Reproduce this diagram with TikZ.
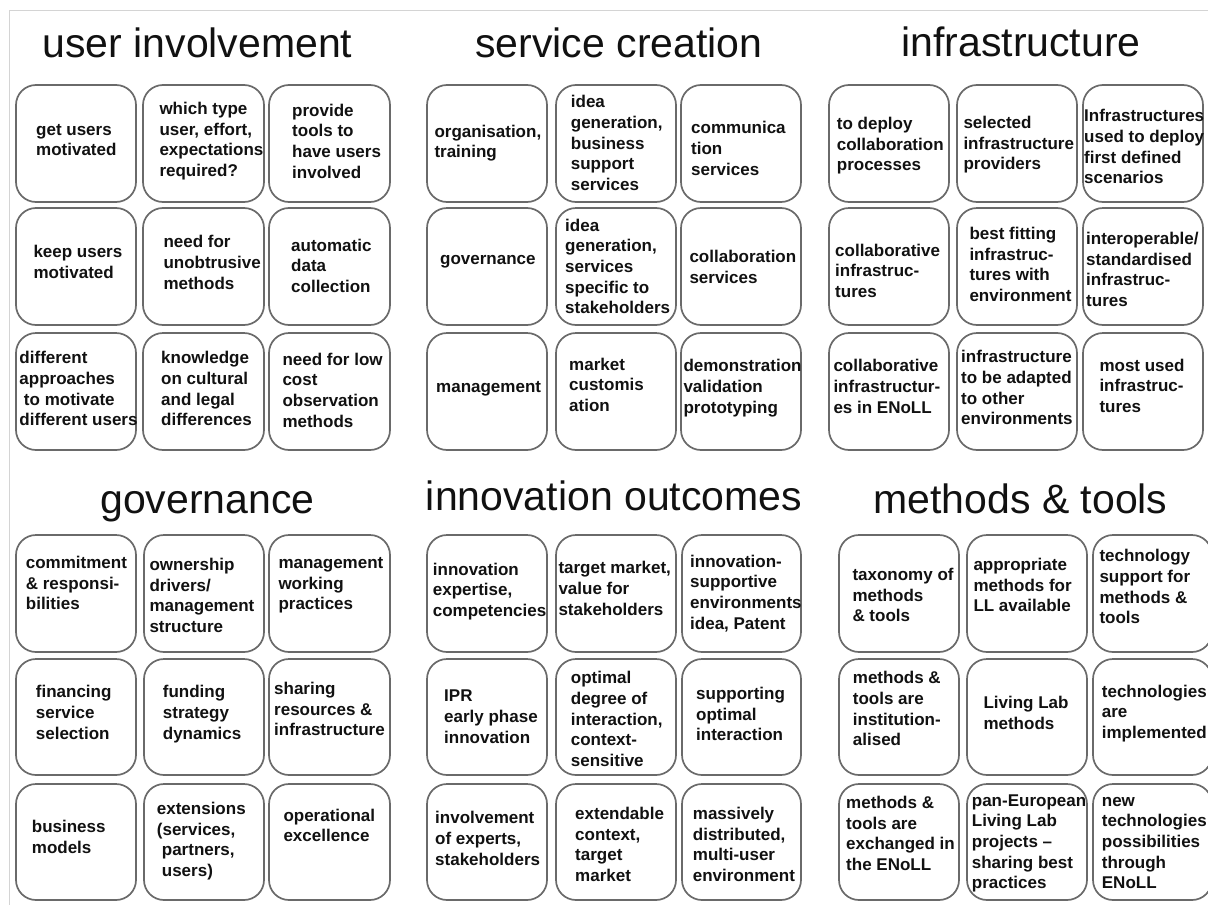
\documentclass[tikz,border=0pt]{standalone}
\usepackage{fontspec}
\setmainfont{Liberation Sans}
\definecolor{boxgray}{HTML}{6A6A6A}
\definecolor{textblack}{HTML}{111111}
\definecolor{framegray}{HTML}{D4D4D4}
\tikzset{
  cellbox/.style={draw=boxgray, line width=1.7pt, rounded corners=20pt, inner sep=0pt, fill=white},
  celltxt/.style={anchor=base west, inner sep=0pt, text=textblack, font=\fontsize{17}{20.7}\selectfont\bfseries},
  paneltitle/.style={anchor=base, inner sep=0pt, text=textblack, font=\fontsize{41}{46}\selectfont},
  framestroke/.style={draw=framegray, line width=1pt},
}
% box: name, x1, y1, x2, y2
\newcommand\cellat[5]{\node[cellbox, minimum width={(#4)-(#2)}, minimum height={(#5)-(#3)}] (#1) at ({((#2)+(#4))/2},{((#3)+(#5))/2}) {};}
% text: name, x, baseline y, lines
\newcommand\celltext[4]{\node[celltxt] (#1) at (#2,#3) {\begin{tabular}[t]{@{}l@{}}#4\end{tabular}};}
\begin{document}
\begin{tikzpicture}[x=1pt,y=-1pt]
\path[use as bounding box] (0,0) rectangle (1208,905);
\clip (0,0) rectangle (1208,905);
\fill[white] (0,0) rectangle (1208,905);
\draw[framestroke] (9,905) -- (9,10) -- (1208,10);

% ---------- titles ----------
\node[paneltitle] (t-ui) at (197.5,57) {user involvement};
\node[paneltitle] (t-sc) at (619,57) {service creation};
\node[paneltitle] (t-in) at (1021,56) {infrastructure};
\node[paneltitle] (t-go) at (207.5,513) {governance};
\node[paneltitle] (t-io) at (614,510) {innovation outcomes};
\node[paneltitle] (t-mt) at (1020.5,513) {methods \& tools};

% ---------- user involvement ----------
\cellat{ui11}{16}{85}{136}{202}
\cellat{ui12}{143}{85}{264}{202}
\cellat{ui13}{269}{85}{390}{202}
\cellat{ui21}{16}{208}{136}{325}
\cellat{ui22}{143}{208}{264}{325}
\cellat{ui23}{269}{208}{390}{325}
\cellat{ui31}{16}{333}{136}{450}
\cellat{ui32}{143}{333}{264}{450}
\cellat{ui33}{269}{333}{390}{450}
\celltext{ui11t}{36}{135}{get users\\motivated}
\celltext{ui12t}{159.3}{114.5}{which type\\user, effort,\\expectations\\required?}
\celltext{ui13t}{292}{116}{provide\\tools to\\have users\\involved}
\celltext{ui21t}{33.3}{257.7}{keep users\\motivated}
\celltext{ui22t}{163.3}{247.7}{need for\\unobtrusive\\methods}
\celltext{ui23t}{291}{251}{automatic\\data\\collection}
\celltext{ui31t}{19.3}{363.7}{different\\approaches\\\hspace*{4.5pt}to motivate\\different users}
\celltext{ui32t}{161}{363.7}{knowledge\\on cultural\\and legal\\differences}
\celltext{ui33t}{282.3}{365}{need for low\\cost\\observation\\methods}

% ---------- service creation ----------
\cellat{sc11}{427}{85}{547}{202}
\cellat{sc12}{556}{85}{676}{202}
\cellat{sc13}{681}{85}{801}{202}
\cellat{sc21}{427}{208}{547}{325}
\cellat{sc22}{556}{208}{676}{325}
\cellat{sc23}{681}{208}{801}{325}
\cellat{sc31}{427}{333}{547}{450}
\cellat{sc32}{556}{333}{676}{450}
\cellat{sc33}{681}{333}{801}{450}
\celltext{sc11t}{434.3}{137}{organisation,\\training}
\celltext{sc12t}{570.7}{107.7}{idea\\generation,\\business\\support\\services}
\celltext{sc13t}{691}{133.7}{communica\\tion\\services}
\celltext{sc21t}{440}{264.4}{governance}
\celltext{sc22t}{565}{231}{idea\\generation,\\services\\specific to\\stakeholders}
\celltext{sc23t}{689.3}{262.7}{collaboration\\services}
\celltext{sc31t}{436}{392.7}{management}
\celltext{sc32t}{569}{370}{market\\customis\\ation}
\celltext{sc33t}{683.3}{371.7}{demonstration\\validation\\prototyping}

% ---------- infrastructure ----------
\cellat{in11}{829}{85}{949}{202}
\cellat{in12}{957}{85}{1077}{202}
\cellat{in13}{1083}{85}{1203}{202}
\cellat{in21}{829}{208}{949}{325}
\cellat{in22}{957}{208}{1077}{325}
\cellat{in23}{1083}{208}{1203}{325}
\cellat{in31}{829}{333}{949}{450}
\cellat{in32}{957}{333}{1077}{450}
\cellat{in33}{1083}{333}{1203}{450}
\celltext{in11t}{836.7}{129.4}{to deploy\\collaboration\\processes}
\celltext{in12t}{963.3}{128.4}{selected\\infrastructure\\providers}
\celltext{in13t}{1084}{121.7}{Infrastructures\\used to deploy\\first defined\\scenarios}
\celltext{in21t}{835}{256}{collaborative\\infrastruc-\\tures}
\celltext{in22t}{969.3}{239.4}{best fitting\\infrastruc-\\tures with\\environment}
\celltext{in23t}{1086}{244.4}{interoperable/\\standardised\\infrastruc-\\tures}
\celltext{in31t}{833.3}{371.7}{collaborative\\infrastructur-\\es in ENoLL}
\celltext{in32t}{961}{362.7}{infrastructure\\to be adapted\\to other\\environments}
\celltext{in33t}{1099.3}{371}{most used\\infrastruc-\\tures}

% ---------- governance ----------
\cellat{go11}{16}{535}{136}{652}
\cellat{go12}{144}{535}{264}{652}
\cellat{go13}{269}{535}{390}{652}
\cellat{go21}{16}{659}{136}{775}
\cellat{go22}{144}{659}{264}{775}
\cellat{go23}{269}{659}{390}{775}
\cellat{go31}{16}{784}{136}{900}
\cellat{go32}{144}{784}{264}{900}
\cellat{go33}{269}{784}{390}{900}
\celltext{go11t}{25.7}{568.4}{commitment\\\& responsi-\\bilities}
\celltext{go12t}{149.3}{570.4}{ownership\\drivers/\\management\\structure}
\celltext{go13t}{278.3}{568.4}{management\\working\\practices}
\celltext{go21t}{35.7}{697.7}{financing\\service\\selection}
\celltext{go22t}{162.7}{697.7}{funding\\strategy\\dynamics}
\celltext{go23t}{274}{694.4}{sharing\\resources \&\\infrastructure}
\celltext{go31t}{31.7}{832.7}{business\\models}
\celltext{go32t}{156.7}{814.4}{extensions\\(services,\\\hspace*{5pt}partners,\\\hspace*{5pt}users)}
\celltext{go33t}{283.3}{821}{operational\\excellence}

% ---------- innovation outcomes ----------
\cellat{io11}{427}{535}{547}{652}
\cellat{io12}{556}{535}{676}{652}
\cellat{io13}{682}{535}{801}{652}
\cellat{io21}{427}{659}{547}{775}
\cellat{io22}{556}{659}{676}{775}
\cellat{io23}{682}{659}{801}{775}
\cellat{io31}{427}{784}{547}{900}
\cellat{io32}{556}{784}{676}{900}
\cellat{io33}{682}{784}{801}{900}
\celltext{io11t}{432.7}{575}{innovation\\expertise,\\competencies}
\celltext{io12t}{558.3}{573.7}{target market,\\value for\\stakeholders}
\celltext{io13t}{690}{567}{innovation-\\supportive\\environments\\idea, Patent}
\celltext{io21t}{444}{701.7}{IPR\\early phase\\innovation}
\celltext{io22t}{570.7}{683.7}{optimal\\degree of\\interaction,\\context-\\sensitive}
\celltext{io23t}{696}{699.4}{supporting\\optimal\\interaction}
\celltext{io31t}{435}{823.7}{involvement\\of experts,\\stakeholders}
\celltext{io32t}{575}{819.4}{extendable\\context,\\target\\market}
\celltext{io33t}{692.7}{819.4}{massively\\distributed,\\multi-user\\environment}

% ---------- methods & tools ----------
\cellat{mt11}{839}{535}{959}{652}
\cellat{mt12}{967}{535}{1087}{652}
\cellat{mt13}{1093}{535}{1212}{652}
\cellat{mt21}{839}{659}{959}{775}
\cellat{mt22}{967}{659}{1087}{775}
\cellat{mt23}{1093}{659}{1212}{775}
\cellat{mt31}{839}{784}{959}{900}
\cellat{mt32}{967}{784}{1087}{900}
\cellat{mt33}{1093}{784}{1212}{900}
\celltext{mt11t}{852.3}{580.4}{taxonomy of\\methods\\\& tools}
\celltext{mt12t}{973.3}{570.4}{appropriate\\methods for\\LL available}
\celltext{mt13t}{1099.3}{561.7}{technology\\support for\\methods \&\\tools}
\celltext{mt21t}{852.7}{683.7}{methods \&\\tools are\\institution-\\alised}
\celltext{mt22t}{983.3}{708.4}{Living Lab\\methods}
\celltext{mt23t}{1101.7}{697}{technologies\\are\\implemented}
\celltext{mt31t}{846}{808.4}{methods \&\\tools are\\exchanged in\\the ENoLL}
\celltext{mt32t}{971.7}{806}{pan-European\\Living Lab\\projects –\\sharing best\\practices}
\celltext{mt33t}{1101.7}{806}{new\\technologies\\possibilities\\through\\ENoLL}
\end{tikzpicture}
\end{document}
